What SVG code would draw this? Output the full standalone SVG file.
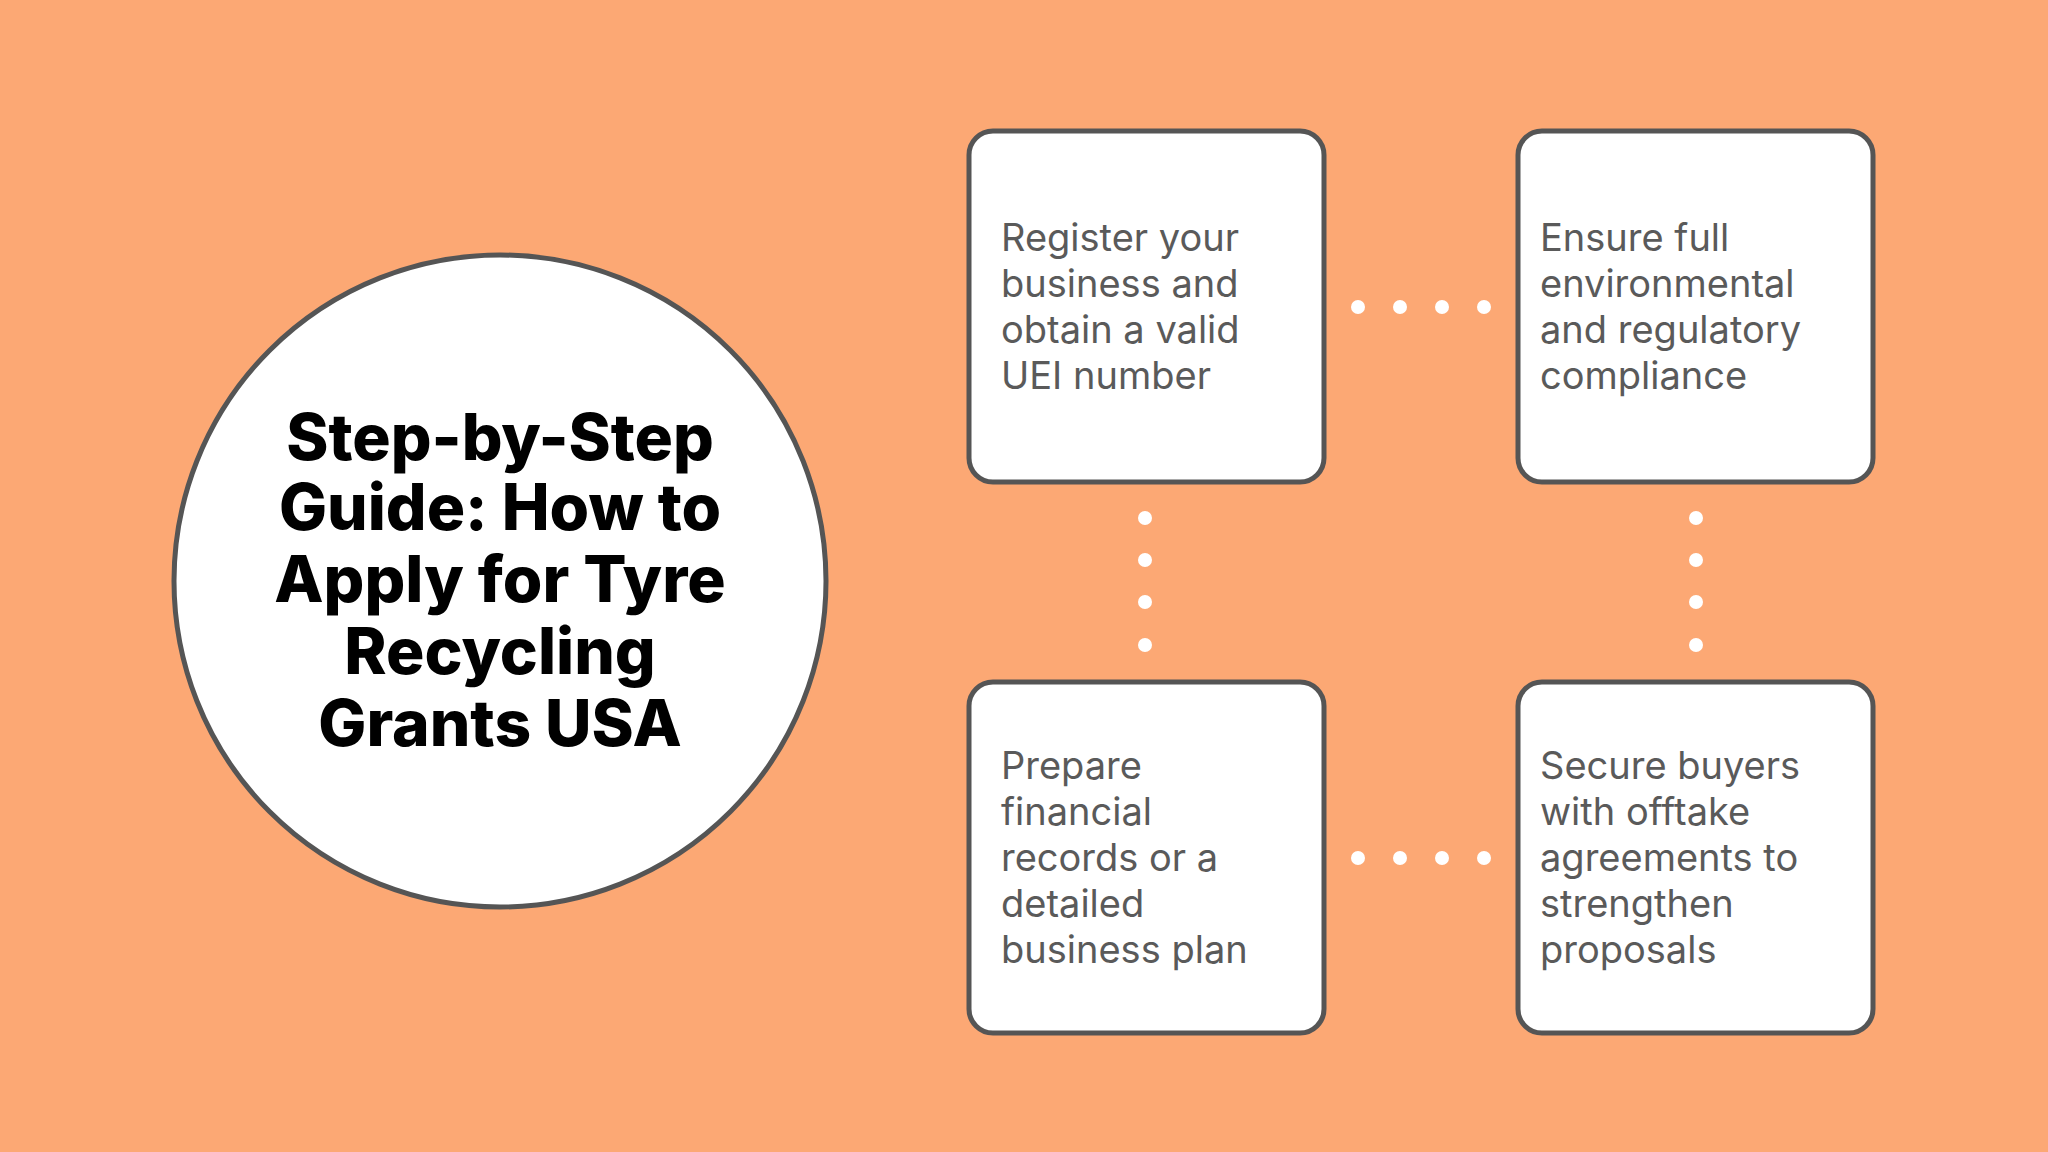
<svg xmlns="http://www.w3.org/2000/svg" width="2048" height="1152" viewBox="0 0 2048 1152">
<style>
.box{fill:#fff;stroke:#555;stroke-width:5}
.t{font-family:Inter,"Open Sans",sans-serif;font-size:38px;fill:#5a5a5a}
.h{font-family:Inter,"Open Sans",sans-serif;font-size:64px;font-weight:800;fill:#000;text-anchor:middle}
.d{fill:#fff}
</style>
<rect width="2048" height="1152" fill="#FCA874"/>
<g id="title">
<circle cx="500" cy="581" r="326" class="box"/>
<text class="h"><tspan x="500" y="460">Step-by-Step</tspan><tspan x="500" y="530">Guide: How to</tspan><tspan x="500" y="602">Apply for Tyre</tspan><tspan x="500" y="674">Recycling</tspan><tspan x="500" y="746">Grants USA</tspan></text>
</g>
<g id="connectors">
<circle class="d" cx="1358" cy="307" r="7"/><circle class="d" cx="1400" cy="307" r="7"/><circle class="d" cx="1442" cy="307" r="7"/><circle class="d" cx="1484" cy="307" r="7"/>
<circle class="d" cx="1358" cy="858" r="7"/><circle class="d" cx="1400" cy="858" r="7"/><circle class="d" cx="1442" cy="858" r="7"/><circle class="d" cx="1484" cy="858" r="7"/>
<circle class="d" cx="1145" cy="518" r="7"/><circle class="d" cx="1145" cy="560" r="7"/><circle class="d" cx="1145" cy="602" r="7"/><circle class="d" cx="1145" cy="645" r="7"/>
<circle class="d" cx="1696" cy="518" r="7"/><circle class="d" cx="1696" cy="560" r="7"/><circle class="d" cx="1696" cy="602" r="7"/><circle class="d" cx="1696" cy="645" r="7"/>
</g>
<g id="n1"><rect class="box" x="969" y="131" width="355" height="351" rx="24"/>
<text class="t"><tspan x="1001" y="251">Register your</tspan><tspan x="1001" y="297">business and</tspan><tspan x="1001" y="343">obtain a valid</tspan><tspan x="1001" y="389">UEI number</tspan></text></g>
<g id="n2"><rect class="box" x="1518" y="131" width="355" height="351" rx="24"/>
<text class="t"><tspan x="1540" y="251">Ensure full</tspan><tspan x="1540" y="297">environmental</tspan><tspan x="1540" y="343">and regulatory</tspan><tspan x="1540" y="389">compliance</tspan></text></g>
<g id="n3"><rect class="box" x="969" y="682" width="355" height="351" rx="24"/>
<text class="t"><tspan x="1001" y="779">Prepare</tspan><tspan x="1001" y="825">financial</tspan><tspan x="1001" y="871">records or a</tspan><tspan x="1001" y="917">detailed</tspan><tspan x="1001" y="963">business plan</tspan></text></g>
<g id="n4"><rect class="box" x="1518" y="682" width="355" height="351" rx="24"/>
<text class="t"><tspan x="1540" y="779">Secure buyers</tspan><tspan x="1540" y="825">with offtake</tspan><tspan x="1540" y="871">agreements to</tspan><tspan x="1540" y="917">strengthen</tspan><tspan x="1540" y="963">proposals</tspan></text></g>
</svg>
